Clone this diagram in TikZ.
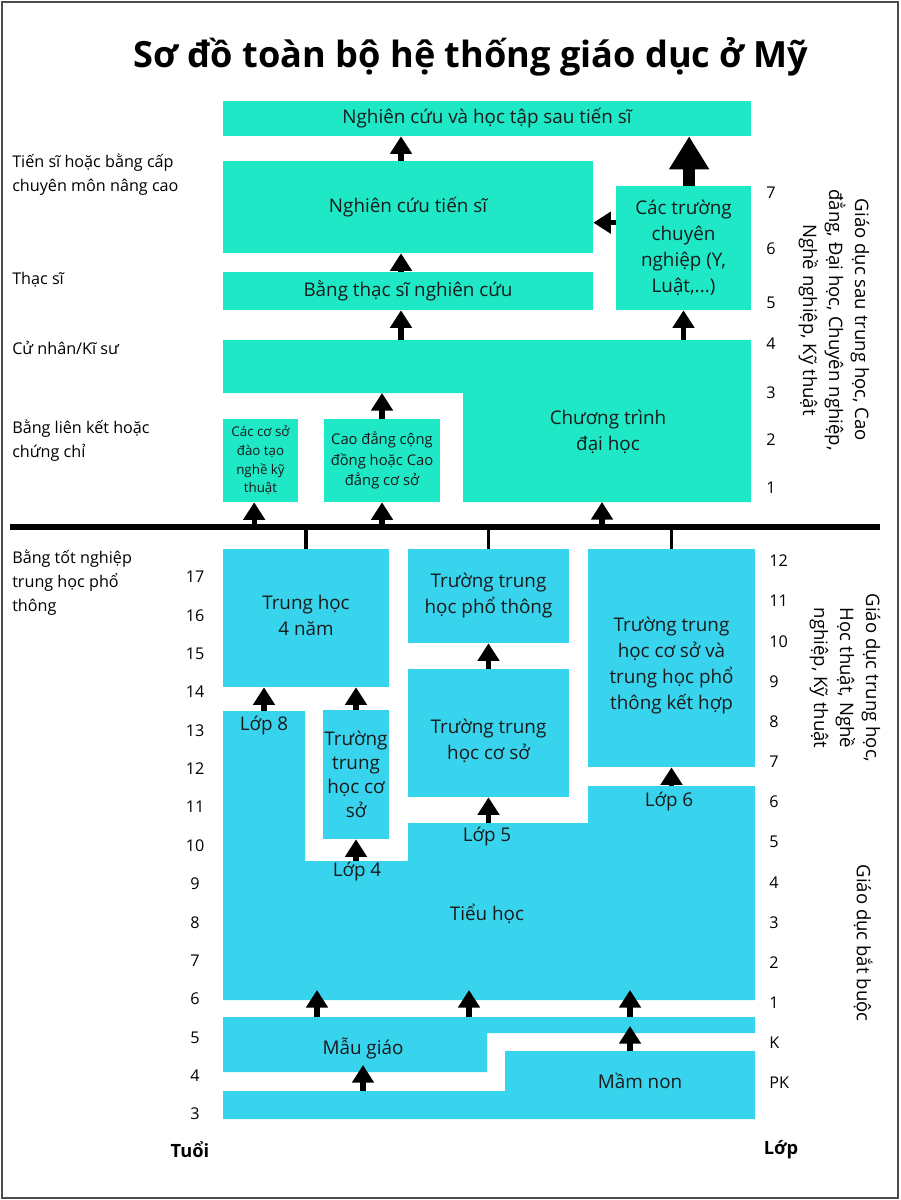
\documentclass[tikz,border=0pt]{standalone}
\usepackage{fontspec}
\setmainfont{Open Sans}
\usetikzlibrary{arrows.meta,positioning}

\definecolor{postsec}{HTML}{1EE8C6}
\definecolor{school}{HTML}{38D4EE}
\definecolor{ink}{HTML}{1A1A1A}

\tikzset{
  box/.style={inner sep=0pt, align=center, text=ink, font=\fontsize{13.4}{18.5}\selectfont},
  topbox/.style={box, fill=postsec},
  lowbox/.style={box, fill=school},
  thinarrow/.style={line width=3.8pt, -{Triangle[width=15pt,length=12.5pt]}},
  bigarrow/.style={line width=8.5pt, -{Triangle[width=27pt,length=23.5pt]}},
  leftnote/.style={anchor=west, align=left, inner sep=0pt, font=\fontsize{11.5}{17}\selectfont},
  agenum/.style={inner sep=0pt, font=\fontsize{11.5}{14}\selectfont},
  gradenum/.style={anchor=west, inner sep=0pt, font=\fontsize{11.5}{14}\selectfont},
  sidenote/.style={rotate=-90, align=center, inner sep=0pt, font=\fontsize{13.2}{18.5}\selectfont},
  barline/.style={line width=3.6pt},
  tickline/.style={line width=2.2pt},
}

\begin{document}
\begin{tikzpicture}[x=0.025cm, y=-0.025cm]
\useasboundingbox (0,0) rectangle (900,1200);
\draw[black!70, line width=1.2pt] (2,2) rectangle (898,1198);

\node[font=\fontsize{25.7}{30}\selectfont\bfseries] (title) at (471,57) {Sơ đồ toàn bộ hệ thống giáo dục ở Mỹ};

% sau trung hoc
\node[topbox, minimum width=13.2cm, minimum height=0.875cm] (postdoc) at (487,118.5) {Nghiên cứu và học tập sau tiến sĩ};
\node[topbox, minimum width=9.25cm, minimum height=2.3cm] (phd) at (408,207) {Nghiên cứu tiến sĩ};
\node[topbox, minimum width=9.25cm, minimum height=0.95cm] (master) at (408,291) {Bằng thạc sĩ nghiên cứu};
\node[topbox, minimum width=3.375cm, minimum height=3.1cm] (prof) at (683.5,248) {Các trường\\chuyên\\nghiệp (Y,\\Luật,...)};
\fill[postsec] (223,340) -- (751,340) -- (751,502) -- (463,502) -- (463,393) -- (223,393) -- cycle;
\node[box] (bachelor) at (608,432) {Chương trình\\đại học};
\node[topbox, minimum width=1.875cm, minimum height=2.075cm, font=\fontsize{9.5}{13.2}\selectfont] (voc) at (260.5,460.5) {Các cơ sở\\đào tạo\\nghề kỹ\\thuật};
\node[topbox, minimum width=2.9cm, minimum height=2.075cm, font=\fontsize{10.5}{14.5}\selectfont] (cc) at (382,460.5) {Cao đẳng cộng\\đồng hoặc Cao\\đẳng cơ sở};

\coordinate (colA) at (401,0);
\coordinate (bachTop) at (487,340);
\coordinate (bachStep) at (223,393);
\coordinate (bachBot) at (602,502);
\coordinate (profL) at ([yshift=18pt]prof.west);
\draw[thinarrow] (master.north -| colA) -- (phd.south -| colA);
\draw[thinarrow] (phd.north -| colA) -- (postdoc.south -| colA);
\draw[thinarrow] (bachTop -| colA) -- (master.south -| colA);
\draw[thinarrow] (cc.north) -- (cc.north |- bachStep);
\draw[thinarrow] (bachTop -| prof.south) -- (prof.south);
\draw[bigarrow] ([xshift=4pt]prof.north) -- ([xshift=4pt]prof.north |- postdoc.south);
\draw[thinarrow] (profL) -- (profL -| phd.east);

% thanh ngang
\coordinate (barL) at (10,527);
\coordinate (barR) at (880,527);
\draw[barline] (barL) -- (barR);
\draw[thinarrow] ([xshift=-4.5pt]voc.south |- barL) -- ([xshift=-4.5pt]voc.south);
\draw[thinarrow] (cc.south |- barL) -- (cc.south);
\draw[thinarrow] (bachBot |- barL) -- (bachBot);

% trung hoc
\node[lowbox, minimum width=4.15cm, minimum height=3.45cm,
  label={[box, yshift=2pt]center:Trung học\\4 năm}] (hs4) at (306,618) {};
\node[lowbox, minimum width=4.025cm, minimum height=2.35cm] (hs) at (488.5,596) {Trường trung\\học phổ thông};
\node[lowbox, minimum width=4.175cm, minimum height=5.45cm,
  label={[box, yshift=-5.5pt]center:Trường trung\\học cơ sở và\\trung học phổ\\thông kết hợp}] (comb) at (671.5,658) {};
\node[lowbox, minimum width=4.025cm, minimum height=3.2cm,
  label={[box, yshift=-5.5pt]center:Trường trung\\học cơ sở}] (ms) at (488.5,733) {};
\node[lowbox, minimum width=1.65cm, minimum height=3.225cm, font=\fontsize{13.4}{17.2}\selectfont] (msn) at (356,774.5) {Trường\\trung\\học cơ\\sở};
\draw[tickline] (hs4.north |- barL) -- (hs4.north);
\draw[tickline] (hs.north |- barL) -- (hs.north);
\draw[tickline] (comb.north |- barL) -- (comb.north);

% tieu hoc
\fill[school] (223,711) -- (305,711) -- (305,861) -- (408,861) -- (408,823) -- (588,823)
  -- (588,786) -- (755,786) -- (755,1000) -- (223,1000) -- cycle;
\node[box] (elem) at (487,914) {Tiểu học};
\node[box] (lop8) at (264,726) {Lớp 8};
\node[box] (lop4) at (357,872) {Lớp 4};
\node[box] (lop5) at (487,837) {Lớp 5};
\node[box] (lop6) at (669,802) {Lớp 6};

\coordinate (elemTop) at (223,711);
\coordinate (stepA) at (305,861);
\coordinate (stepB) at (408,823);
\coordinate (stepC) at (588,786);
\draw[thinarrow] (lop8 |- elemTop) -- (lop8 |- hs4.south);
\draw[thinarrow] (msn.north) -- (msn.north |- hs4.south);
\draw[thinarrow] (msn.south |- stepA) -- (msn.south);
\draw[thinarrow] (ms.south |- stepB) -- (ms.south);
\draw[thinarrow] (ms.north) -- (hs.south);
\draw[thinarrow] (comb.south |- stepC) -- (comb.south);

% mau giao, mam non
\fill[school] (223,1017) -- (755,1017) -- (755,1033) -- (487,1033) -- (487,1072) -- (223,1072) -- cycle;
\fill[school] (223,1091) -- (505,1091) -- (505,1051) -- (755,1051) -- (755,1119) -- (223,1119) -- cycle;
\node[box] (mg) at (363,1048) {Mẫu giáo};
\node[box] (mn) at (640,1081) {Mầm non};

\coordinate (elemBot) at (223,990);
\coordinate (k1) at (317,1017);
\coordinate (k2) at (469,1017);
\coordinate (k3) at (630,1017);
\coordinate (pk1) at (363,1091);
\coordinate (pk2) at (630,1051);
\foreach \c in {1,2,3}
  \draw[thinarrow] (k\c) -- (k\c |- elemBot);
\draw[thinarrow] (pk1) -- +(0,-26);
\draw[thinarrow] (pk2) -- +(0,-25);

% nhan ben trai
\node[leftnote] (lblPhd) at (12,175) {Tiến sĩ hoặc bằng cấp\\chuyên môn nâng cao};
\node[leftnote] (lblMs) at (12,280) {Thạc sĩ};
\node[leftnote] (lblBa) at (12,348) {Cử nhân/Kĩ sư};
\node[leftnote] (lblAs) at (12,441) {Bằng liên kết hoặc\\chứng chỉ};
\node[leftnote] (lblHs) at (12,583) {Bằng tốt nghiệp\\trung học phổ\\thông};

% tuoi va lop
\foreach \a [count=\i from 0] in {17,16,...,3}
  \node[agenum] (age\a) at (195,577+38.36*\i) {\a};
\foreach \g [count=\i from 0] in {12,11,10,9,8,7,6,5,4,3,2,1,K,PK}
  \node[gradenum] (gr\i) at (769,561+40.15*\i) {\g};
\foreach \n/\y in {7/193,6/249,5/303,4/344,3/393,2/440,1/488}
  \node[agenum] (yr\n) at (771,\y) {\n};
\node[font=\fontsize{13}{15}\selectfont\bfseries] (tuoi) at (190,1150) {Tuổi};
\node[font=\fontsize{13}{15}\selectfont\bfseries] (lop) at (781,1150) {Lớp};

% nhan doc ben phai
\node[sidenote] (sidePost) at (834,320) {Giáo dục sau trung học, Cao\\đẳng, Đại học, Chuyên nghiệp,\\Nghề nghiệp, Kỹ thuật};
\node[sidenote] (sideSec) at (845,678) {Giáo dục trung học,\\Học thuật, Nghề\\nghiệp, Kỹ thuật};
\node[sidenote] (sideComp) at (863,943) {Giáo dục bắt buộc};

\end{tikzpicture}
\end{document}
